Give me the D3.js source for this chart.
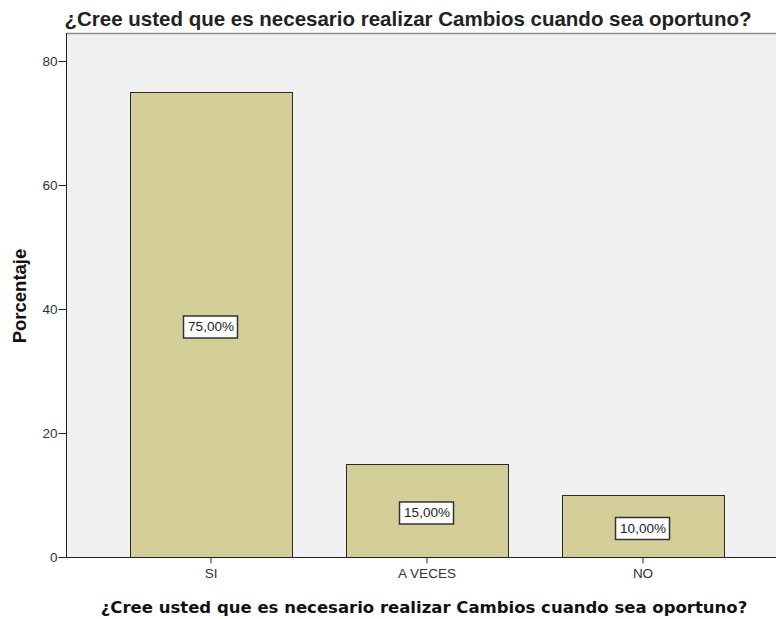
<!DOCTYPE html>
<html>
<head>
<meta charset="utf-8">
<script src="https://cdn.jsdelivr.net/npm/d3@7"></script>
<style>
  body { margin: 0; background: #fff; }
  text { font-family: "Liberation Sans", Arial, sans-serif; }
</style>
</head>
<body>
<div id="chart"></div>
<script>
var categories = ["SI", "A VECES", "NO"];
var percents = [75, 15, 10];
var labels = ["75,00%", "15,00%", "10,00%"];
var yTicks = [0, 20, 40, 60, 80];

var width = 776, height = 619;
var plot = {left: 66, top: 33, right: 776, bottom: 557};

var svg = d3.select("#chart").append("svg")
    .attr("width", width)
    .attr("height", height);

// plot background
svg.append("rect")
    .attr("x", plot.left)
    .attr("y", plot.top)
    .attr("width", plot.right - plot.left)
    .attr("height", plot.bottom - plot.top)
    .attr("fill", "#f0f0f0");

svg.append("line")
    .attr("x1", plot.left).attr("x2", plot.right)
    .attr("y1", plot.top + 0.5).attr("y2", plot.top + 0.5)
    .attr("stroke", "#8c8c8c")
    .attr("stroke-width", 1.5);

var x = d3.scaleBand()
    .domain(categories)
    .range([76, 778])
    .paddingInner(0.25)
    .paddingOuter(0.25);

var y = d3.scaleLinear()
    .domain([0, 80])
    .range([plot.bottom, 61]);

// bars
svg.selectAll(".bar")
    .data(percents)
  .enter().append("rect")
    .attr("class", "bar")
    .attr("x", function(d, i) { return x(categories[i]) + 0.5; })
    .attr("y", function(d) { return y(d) + 0.5; })
    .attr("width", x.bandwidth())
    .attr("height", function(d) { return y(0) - y(d); })
    .attr("fill", "#d3ce97")
    .attr("stroke", "#2b2b2b")
    .attr("stroke-width", 1);

// value labels
var lab = svg.selectAll(".lab")
    .data(percents)
  .enter().append("g")
    .attr("class", "lab")
    .attr("transform", function(d, i) {
      return "translate(" + (x(categories[i]) + x.bandwidth() / 2) + "," + ((y(d) + y(0)) / 2 + 2) + ")";
    });

lab.append("rect")
    .attr("x", -27.5).attr("y", -10.5)
    .attr("width", 54).attr("height", 22)
    .attr("fill", "#fff")
    .attr("stroke", "#333")
    .attr("stroke-width", 1.5);

lab.append("text")
    .attr("text-anchor", "middle")
    .attr("dy", "0.36em")
    .attr("font-size", 13.5)
    .attr("fill", "#222")
    .text(function(d, i) { return labels[i]; });

// axes
var yAxis = d3.axisLeft(y).tickValues(yTicks).tickSize(8).tickPadding(1);
svg.append("g")
    .attr("transform", "translate(" + (plot.left + 0.5) + ",0)")
    .call(yAxis)
    .call(function(g) {
      g.select(".domain").attr("d", "M0," + plot.top + "V" + plot.bottom).attr("stroke", "#222");
      g.selectAll(".tick line").attr("stroke", "#222");
      g.selectAll(".tick text").attr("font-size", 13.5).attr("fill", "#333")
        .style("font-family", "Liberation Sans, Arial, sans-serif");
    });

var xAxis = d3.axisBottom(x).tickSize(6).tickPadding(5);
svg.append("g")
    .attr("transform", "translate(0," + (plot.bottom + 0.5) + ")")
    .call(xAxis)
    .call(function(g) {
      g.select(".domain").attr("d", "M" + plot.left + ",0H" + plot.right).attr("stroke", "#222");
      g.selectAll(".tick line").attr("stroke", "#222");
      g.selectAll(".tick text").attr("font-size", 13.5).attr("fill", "#333")
        .style("font-family", "Liberation Sans, Arial, sans-serif");
    });

// titles
svg.append("text")
    .attr("x", 408)
    .attr("y", 26)
    .attr("text-anchor", "middle")
    .attr("font-size", 20.5)
    .attr("font-weight", "bold")
    .attr("fill", "#222")
    .text("¿Cree usted que es necesario realizar Cambios cuando sea oportuno?");

svg.append("text")
    .attr("x", 424)
    .attr("y", 613)
    .attr("text-anchor", "middle")
    .attr("font-weight", "bold")
    .attr("fill", "#111")
    .style("font-family", "DejaVu Sans, sans-serif")
    .style("font-size", "16.5px")
    .text("¿Cree usted que es necesario realizar Cambios cuando sea oportuno?");

svg.append("text")
    .attr("transform", "translate(26,296) rotate(-90)")
    .attr("text-anchor", "middle")
    .attr("font-size", 18.5)
    .attr("font-weight", "bold")
    .attr("fill", "#111")
    .text("Porcentaje");
</script>
</body>
</html>
